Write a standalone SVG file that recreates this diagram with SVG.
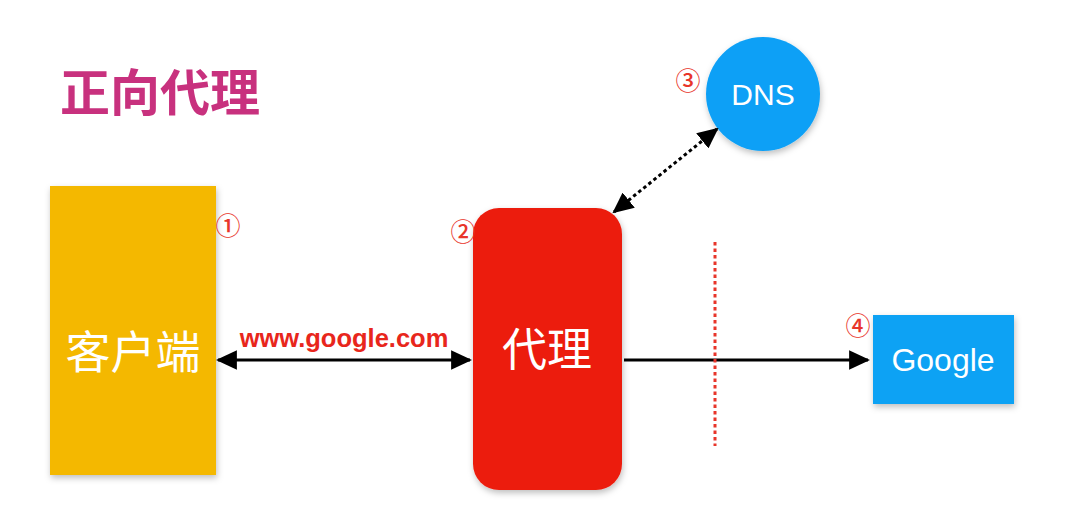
<svg xmlns="http://www.w3.org/2000/svg" width="1080" height="528" viewBox="0 0 1080 528">
  <style>
    .cjk { font-family: "Noto Sans CJK SC", "Noto Sans", sans-serif; }
    .lat { font-family: "Liberation Sans", Arial, sans-serif; }
    .num { font-family: "Noto Sans CJK SC", sans-serif; font-size: 25px; font-weight: 500; fill: #E8352A; text-anchor: middle; }
    .conn { stroke: #000; stroke-width: 3; fill: none; }
    .white { fill: #fff; text-anchor: middle; }
  </style>
  <defs>
    <filter id="sh" x="-20%" y="-20%" width="140%" height="140%">
      <feDropShadow dx="1" dy="3" stdDeviation="3" flood-color="#000" flood-opacity="0.25"/>
    </filter>
    <marker id="ah" viewBox="0 0 10 10" refX="9" refY="5" markerWidth="7" markerHeight="6.5" orient="auto-start-reverse" markerUnits="strokeWidth" preserveAspectRatio="none">
      <path d="M0,0 L10,5 L0,10 z" fill="#000"/>
    </marker>
  </defs>
  <rect width="1080" height="528" fill="#fff"/>

  <g id="title">
    <text class="cjk" x="60" y="111" font-size="50" font-weight="bold" fill="#C8317E">正向代理</text>
  </g>

  <g id="client">
    <rect x="50" y="186" width="166" height="289" fill="#F4B800" filter="url(#sh)"/>
    <text class="cjk white" x="133" y="369" font-size="45">客户端</text>
    <text class="num" x="228" y="235">①</text>
  </g>

  <g id="proxy">
    <rect x="473" y="208" width="149" height="282" rx="26" fill="#EC1E0E" filter="url(#sh)"/>
    <text class="cjk white" x="547" y="366" font-size="45">代理</text>
    <text class="num" x="463" y="241">②</text>
  </g>

  <g id="dns">
    <circle cx="763" cy="94" r="57" fill="#0CA0F6" filter="url(#sh)"/>
    <text class="lat white" x="763" y="105" font-size="30">DNS</text>
    <text class="num" x="688" y="90">③</text>
  </g>

  <g id="google">
    <rect x="873" y="315" width="141" height="89" fill="#0AA2F4" filter="url(#sh)"/>
    <text class="lat white" x="943" y="371" font-size="32">Google</text>
    <text class="num" x="858" y="335">④</text>
  </g>

  <g id="connectors">
    <line class="conn" x1="218" y1="360" x2="470" y2="360" marker-start="url(#ah)" marker-end="url(#ah)"/>
    <text class="lat" x="344" y="347" font-size="25.5" font-weight="bold" fill="#E8261C" text-anchor="middle">www.google.com</text>
    <line class="conn" x1="624" y1="360" x2="868" y2="360" marker-end="url(#ah)"/>
    <line class="conn" x1="717" y1="129" x2="614" y2="212" stroke-width="3.5" stroke-dasharray="3.5 3" marker-start="url(#ah)" marker-end="url(#ah)"/>
    <line x1="715" y1="242" x2="715" y2="446" stroke="#E8352A" stroke-width="3" stroke-dasharray="3.5 3"/>
  </g>
</svg>
